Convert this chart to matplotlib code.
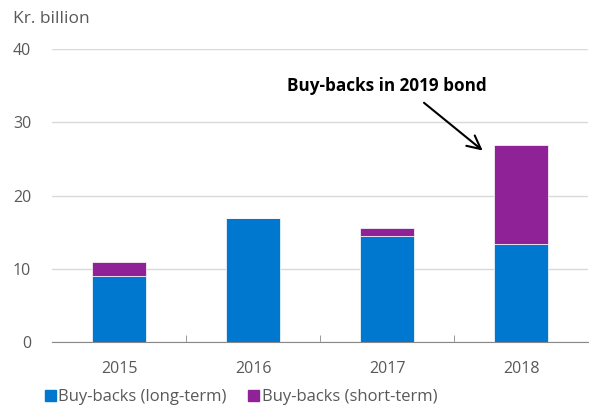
import numpy as np
from matplotlib import pyplot as plt
from matplotlib.patches import Patch

years = ["2015", "2016", "2017", "2018"]
long_term = [9.0, 16.9, 14.5, 13.4]
short_term = [1.9, 0.0, 1.1, 13.5]

blue = "#0078d0"
purple = "#8e2296"
grey = "#595959"

plt.rcParams["font.family"] = ["Open Sans", "DejaVu Sans"]

fig = plt.figure(figsize=(5.89, 4.08), dpi=100)
ax = fig.add_axes([52 / 589, 1 - 342 / 408, 536 / 589, 293 / 408])

x = np.arange(len(years))
ax.bar(x, long_term, width=0.4, color=blue, edgecolor="white", linewidth=0.5, zorder=3)
ax.bar(x, short_term, width=0.4, bottom=long_term, color=purple,
       edgecolor="white", linewidth=0.5, zorder=3)

ax.set_xlim(-0.5, len(years) - 0.5)
ax.set_ylim(0, 40)
ax.set_yticks([0, 10, 20, 30, 40])
ax.yaxis.grid(True, color="#d9d9d9", linewidth=1, zorder=0)
ax.tick_params(axis="y", length=0, pad=15, labelsize=11.5, labelcolor=grey)

ax.set_xticks(x)
ax.set_xticklabels(years)
ax.set_xticks(np.arange(0.5, len(years) - 1, 1), minor=True)
ax.tick_params(axis="x", which="major", length=0, pad=14, labelsize=11.5, labelcolor=grey)
ax.tick_params(axis="x", which="minor", direction="in", length=5, color="#888888")

for s in ["top", "right", "left"]:
    ax.spines[s].set_visible(False)
ax.spines["bottom"].set_color("#888888")

fig.text(13 / 589, 1 - 19 / 408, "Kr. billion", fontsize=12.5, color=grey, va="center")

ax.annotate("", xy=(2.73, 25.9), xytext=(2.26, 32.9),
            arrowprops=dict(arrowstyle="->", color="black", lw=1.5,
                            mutation_scale=24))
ax.text(2.0, 35.0, "Buy-backs in 2019 bond", fontsize=12.3, fontweight="bold",
        ha="center", va="center", color="black")

handles = [Patch(color=blue, label="Buy-backs (long-term)"),
           Patch(color=purple, label="Buy-backs (short-term)")]
fig.legend(handles=handles, loc="center", bbox_to_anchor=(241 / 589, 1 - 397 / 408),
           ncol=2, frameon=False, fontsize=12, labelcolor=grey,
           handlelength=0.65, handleheight=0.65, handletextpad=0.15, columnspacing=1.3)

fig.savefig("out.png", dpi=100)
